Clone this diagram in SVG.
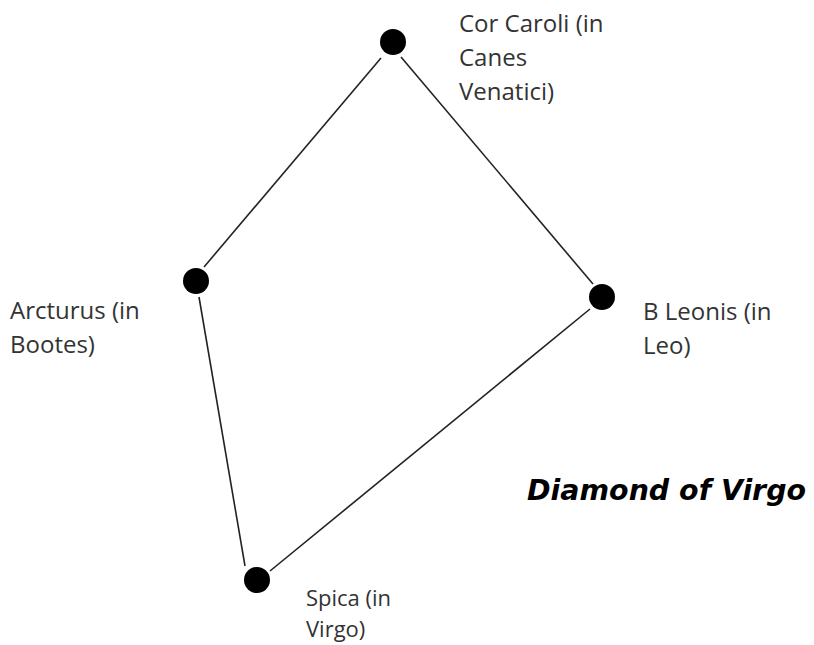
<svg xmlns="http://www.w3.org/2000/svg" width="814" height="645" viewBox="0 0 814 645">
<style>
.lbl{font-family:"Open Sans","Liberation Sans",sans-serif;font-size:24px;fill:#333}
.sm{font-size:22px}
.edge{stroke:#222;stroke-width:1.6;fill:none}
.star{fill:#000}
.title{font-family:"DejaVu Sans","Liberation Sans",sans-serif;font-size:28px;font-weight:bold;font-style:italic;fill:#000}
</style>
<rect width="814" height="645" fill="#fff"/>
<g id="connectors">
<line class="edge" x1="381" y1="58" x2="204" y2="267"/>
<line class="edge" x1="401" y1="57" x2="593" y2="284"/>
<line class="edge" x1="199" y1="297" x2="245" y2="566"/>
<line class="edge" x1="270" y1="571" x2="590" y2="309"/>
</g>
<g id="cor-caroli">
<circle class="star" cx="393" cy="42" r="13"/>
<text class="lbl" x="459" y="32">Cor Caroli (in</text>
<text class="lbl" x="459" y="66">Canes</text>
<text class="lbl" x="459" y="100">Venatici)</text>
</g>
<g id="arcturus">
<circle class="star" cx="196" cy="281" r="13"/>
<text class="lbl" x="10" y="319">Arcturus (in</text>
<text class="lbl" x="10" y="353">Bootes)</text>
</g>
<g id="b-leonis">
<circle class="star" cx="602" cy="297" r="13"/>
<text class="lbl" x="643" y="320">B Leonis (in</text>
<text class="lbl" x="643" y="354">Leo)</text>
</g>
<g id="spica">
<circle class="star" cx="257" cy="580" r="13"/>
<text class="lbl sm" x="306" y="606">Spica (in</text>
<text class="lbl sm" x="306" y="637">Virgo)</text>
</g>
<text class="title" x="527" y="500" textLength="279" lengthAdjust="spacingAndGlyphs">Diamond of Virgo</text>
</svg>
